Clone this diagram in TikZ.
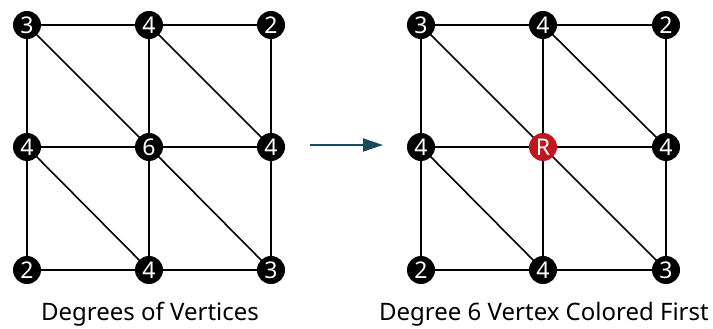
\documentclass[tikz,border=0pt]{standalone}
\usepackage{fontspec}
\setmainfont{Noto Sans}
\usetikzlibrary{arrows.meta}
\definecolor{arrowc}{HTML}{1B4A5C}
\definecolor{redv}{HTML}{C1161E}
\tikzset{
  vtx/.style={circle,fill=black,inner sep=0pt,minimum size=28pt,text=white,font=\fontsize{23}{23}\selectfont},
  rvtx/.style={vtx,fill=redv},
  edge/.style={line width=1.6pt,black},
  captext/.style={font=\fontsize{24}{26}\selectfont,text=black,anchor=base,inner sep=0pt}
}
\begin{document}
\begin{tikzpicture}[x=1pt,y=-1pt]
\useasboundingbox (0,0) rectangle (713,329);
% left graph
\foreach \n/\x/\y in {a/27/25,b/149/25,c/271/25,d/27/147,e/149/147,f/271/147,g/27/270,h/149/270,i/271/270}{
  \coordinate (L\n) at (\x,\y);
}
\foreach \p/\q in {a/b,b/c,d/e,e/f,g/h,h/i,a/d,d/g,b/e,e/h,c/f,f/i,a/e,b/f,d/h,e/i}{
  \draw[edge] (L\p) -- (L\q);
}
\node[vtx] (La) at (La) {3};
\node[vtx] (Lb) at (Lb) {4};
\node[vtx] (Lc) at (Lc) {2};
\node[vtx] (Ld) at (Ld) {4};
\node[vtx] (Le) at (Le) {6};
\node[vtx] (Lf) at (Lf) {4};
\node[vtx] (Lg) at (Lg) {2};
\node[vtx] (Lh) at (Lh) {4};
\node[vtx] (Li) at (Li) {3};
% right graph
\foreach \n/\x/\y in {a/421/25,b/543/25,c/666/25,d/421/147,e/543/147,f/666/147,g/421/270,h/543/270,i/666/270}{
  \coordinate (R\n) at (\x,\y);
}
\foreach \p/\q in {a/b,b/c,d/e,e/f,g/h,h/i,a/d,d/g,b/e,e/h,c/f,f/i,a/e,b/f,d/h,e/i}{
  \draw[edge] (R\p) -- (R\q);
}
\node[vtx] (Ra) at (Ra) {3};
\node[vtx] (Rb) at (Rb) {4};
\node[vtx] (Rc) at (Rc) {2};
\node[vtx] (Rd) at (Rd) {4};
\node[rvtx] (Re) at (Re) {R};
\node[vtx] (Rf) at (Rf) {4};
\node[vtx] (Rg) at (Rg) {2};
\node[vtx] (Rh) at (Rh) {4};
\node[vtx] (Ri) at (Ri) {3};
% arrow
\coordinate (A1) at (310,145);
\coordinate (A2) at (383,145);
\draw[arrowc,line width=2pt,-{Triangle[length=20pt,width=13pt]}] (A1) -- (A2);
% captions
\node[captext] (cl) at (150,320) {Degrees of Vertices};
\node[captext] (cr) at (544,320) {Degree 6 Vertex Colored First};
\end{tikzpicture}
\end{document}
